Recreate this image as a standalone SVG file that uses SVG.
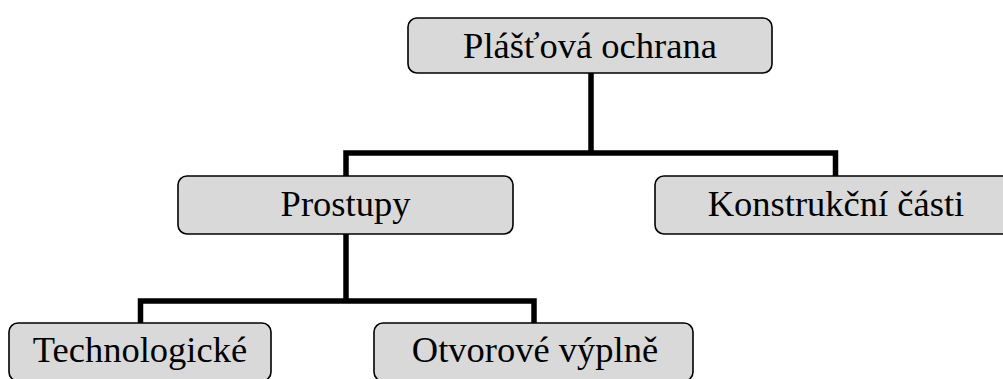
<svg xmlns="http://www.w3.org/2000/svg" width="1003" height="379" viewBox="0 0 1003 379">
  <style>
    .box { fill: #d9d9d9; stroke: #000; stroke-width: 1.6; }
    .conn { fill: none; stroke: #000; stroke-width: 5.5; stroke-linejoin: miter; stroke-linecap: butt; }
  </style>
  <rect width="1003" height="379" fill="#fff"/>
  <g id="connectors">
    <path class="conn" d="M591,73 V153"/>
    <path class="conn" d="M346,176 V153 H835.5 V176"/>
    <path class="conn" d="M346,234 V301"/>
    <path class="conn" d="M140.5,323 V301 H534 V323"/>
  </g>
  <g font-family="Liberation Serif, Tinos, Times New Roman, serif" font-size="36.5" text-anchor="middle" fill="#000">
    <g id="plastova-ochrana">
      <rect class="box" x="408" y="18" width="364" height="55" rx="9"/>
      <text x="590" y="57.5">Plášťová ochrana</text>
    </g>
    <g id="prostupy">
      <rect class="box" x="178" y="176" width="335" height="58" rx="9"/>
      <text x="345.5" y="216">Prostupy</text>
    </g>
    <g id="konstrukcni-casti">
      <rect class="box" x="655" y="176" width="362" height="58" rx="9"/>
      <text x="836" y="216">Konstrukční části</text>
    </g>
    <g id="technologicke">
      <rect class="box" x="9" y="323" width="262" height="58" rx="9"/>
      <text x="140" y="362">Technologické</text>
    </g>
    <g id="otvorove-vyplne">
      <rect class="box" x="374" y="323" width="319" height="58" rx="9"/>
      <text x="535" y="362">Otvorové výplně</text>
    </g>
  </g>
</svg>
